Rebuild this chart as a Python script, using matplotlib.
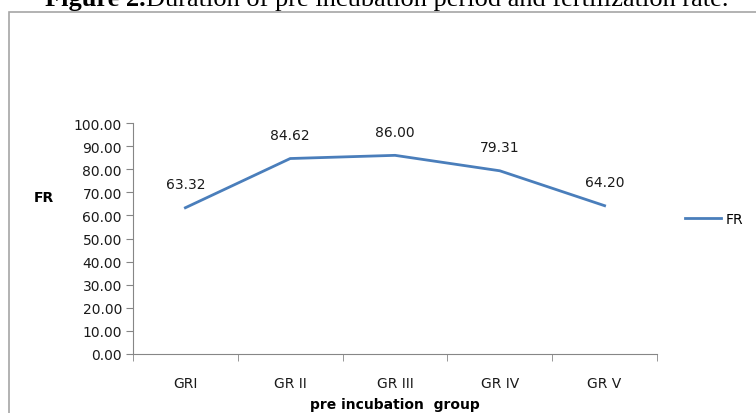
import matplotlib.pyplot as plt
from matplotlib.patches import Rectangle

groups = ["GRI", "GR II", "GR III", "GR IV", "GR V"]
fr = [63.32, 84.62, 86.00, 79.31, 64.20]
labels = ["63.32", "84.62", "86.00", "79.31", "64.20"]

plt.rcParams['font.family'] = ['DejaVu Sans']

fig = plt.figure(figsize=(7.56, 4.14), dpi=100)

# outer chart frame (partly cut off by the picture edge)
fig.patches.append(Rectangle((9 / 756, -0.1), 1.0, (414 - 13) / 414 + 0.1,
                             transform=fig.transFigure, fill=False,
                             edgecolor="#a6a6a6", linewidth=1.2))

# title, only the lower part is visible
t1 = fig.text(45 / 756, 1 - 6 / 414, "Figure 2.", family="Liberation Serif",
              fontsize=19, fontweight="bold", va="baseline")
fig.canvas.draw()
bb = t1.get_window_extent()
fig.text(bb.x1 / 756, 1 - 6 / 414, "Duration of pre incubation period and fertilization rate.",
         family="Liberation Serif", fontsize=19, va="baseline")

ax = fig.add_axes([133 / 756, 1 - 355 / 414, 524 / 756, 231 / 414])
x = range(len(groups))
ax.plot(x, fr, color="#4a7ebb", linewidth=2.0, label="FR")
for i, v in enumerate(fr):
    ax.annotate(labels[i], (i, v), textcoords="offset points", xytext=(0, 12),
                ha="center", va="bottom", fontsize=10, color="#1a1a1a")

ax.set_xlim(-0.5, 4.5)
ax.set_ylim(0, 100)
ax.set_yticks(range(0, 101, 10))
ax.set_yticklabels(["%.2f" % v for v in range(0, 101, 10)], fontsize=10, color="#1a1a1a")
ax.set_xticks(list(x))
ax.set_xticklabels(groups, fontsize=10, color="#1a1a1a")
ax.set_xticks([i - 0.5 for i in range(6)], minor=True)
ax.tick_params(axis="x", which="major", length=0, pad=16)
ax.tick_params(axis="x", which="minor", length=5, color="#868686")
ax.tick_params(axis="y", length=5, color="#868686", pad=3)

for s in ["top", "right"]:
    ax.spines[s].set_visible(False)
for s in ["left", "bottom"]:
    ax.spines[s].set_color("#868686")

ax.set_xlabel("pre incubation  group", fontsize=10, fontweight="bold", labelpad=5)
ax.set_ylabel("FR", fontsize=10, fontweight="bold", rotation=0, va="center")
ax.yaxis.set_label_coords(-0.17, 0.68)

ax.legend(loc="center left", bbox_to_anchor=(1.03, 0.585), frameon=False,
          fontsize=10, handlelength=2.6, handletextpad=0.3)

fig.savefig("out.png", dpi=100)
